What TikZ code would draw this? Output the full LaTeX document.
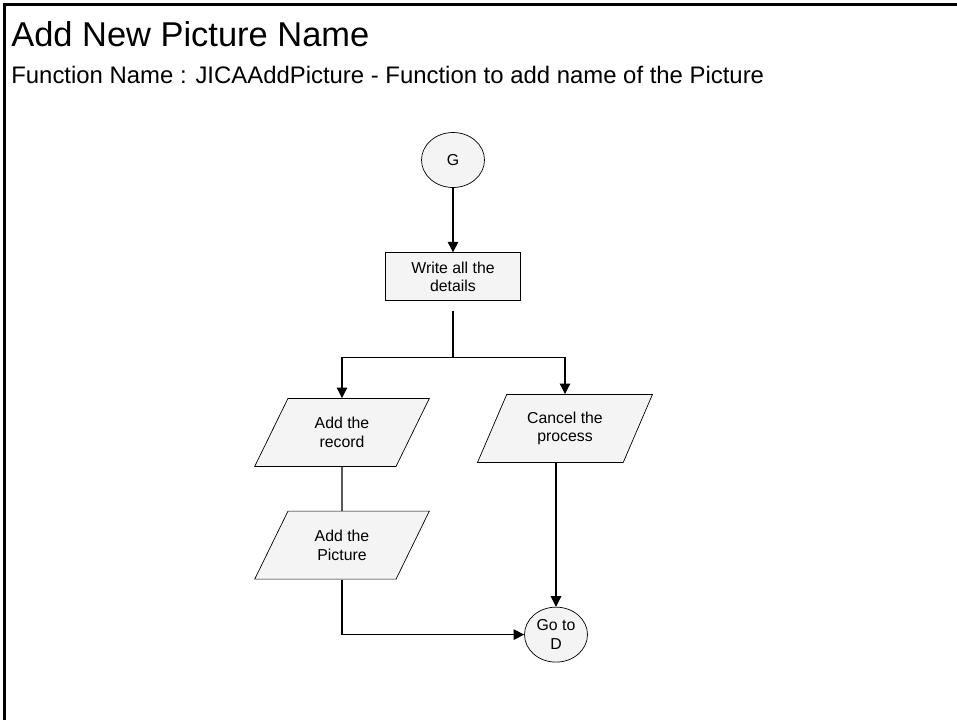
\documentclass[tikz,border=0pt]{standalone}
\usepackage{fontspec}
\setmainfont{Liberation Sans}
\usepackage{tikz}
\usetikzlibrary{shapes.geometric, arrows.meta, positioning, calc}
\definecolor{shapefill}{HTML}{F4F4F4}
\tikzstyle{conn} = [ellipse, draw, fill=shapefill, minimum width=1.26cm, minimum height=1.1cm, inner sep=0pt, align=center, font=\fontsize{9}{10.5}\selectfont]
\tikzstyle{block} = [rectangle, draw, fill=shapefill, minimum width=2.7cm, minimum height=0.96cm, align=center, font=\fontsize{9}{10.5}\selectfont]
\tikzstyle{io} = [trapezium, draw, fill=shapefill, trapezium left angle=64, trapezium right angle=116, trapezium stretches=true, minimum width=3.5cm, minimum height=1.36cm, align=center, font=\fontsize{9}{10.5}\selectfont]
\tikzstyle{line} = [line width=0.6pt]
\tikzstyle{arrow} = [line width=0.6pt,-{Triangle[length=6pt,width=6pt]}]

\begin{document}
\begin{tikzpicture}[node distance=1cm]
    \useasboundingbox (0,0) rectangle (19.14,-14.4);
    % Frame
    \draw[line width=1.3pt] (0.09,-14.4) -- (0.09,-0.09) -- (19.14,-0.09);
    
    % Titles
\node[anchor=base west, inner sep=0pt, font=\fontsize{19.6}{22}\selectfont] (title) at (0.22,-0.93) {Add New Picture Name};
    
\node[anchor=base west, inner sep=0pt, font=\fontsize{13.6}{15}\selectfont] (sub) at (0.22,-1.66) {Function Name : JICAAddPicture - Function to add name of the Picture};
    
    % Flow
    
\node[conn] (g) at (9.06,-3.2) {G};
    
\node[block, below=1.29cm of g] (write) {Write all the\\details};
    
\coordinate[below=1.12cm of write] (split);
    
\node[io, below=0.82cm of split, xshift=-2.22cm] (record) {Add the\\record};
    
\node[io, below=0.74cm of split, xshift=2.24cm] (cancel) {Cancel the\\process};
    
\node[io, below=0.88cm of record] (picture) {Add the\\Picture};
    
\node[conn, below=2.88cm of cancel, xshift=-0.18cm] (god) {Go to\\D};
    
    % Arrows
    \draw[arrow] (g) -- (write);
    \draw[line, shorten <=0.2cm] (write) -- (split);
    \draw[arrow] (split) -| (record);
    \draw[arrow] (split) -| (cancel);
    \draw[line] (record) -- (picture);
    \draw[arrow] (god |- cancel.south) -- (god);
    \draw[arrow] (picture) |- (god);
\end{tikzpicture}
\end{document}
